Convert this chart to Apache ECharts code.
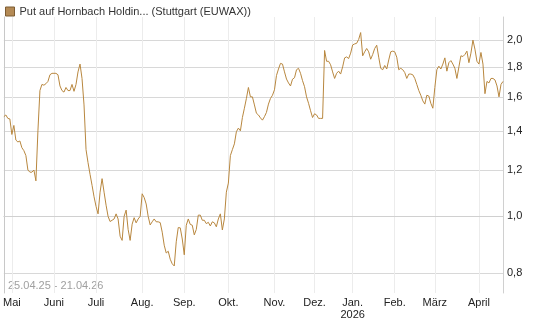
<!DOCTYPE html>
<html>
<head>
<meta charset="utf-8">
<script src="https://cdn.jsdelivr.net/npm/echarts@6/dist/echarts.min.js"></script>
<style>
  html, body { margin: 0; padding: 0; background: #fff; }
  #chart { width: 545px; height: 327px; }
</style>
</head>
<body>
<div id="chart"></div>
<script>
// trading days, Stuttgart closed on these dates
const firstDay = '2025-04-25'
const lastDay = '2026-04-21'
const holidays = ['2025-05-01', '2025-12-24', '2025-12-25', '2025-12-26', '2025-12-31', '2026-01-01', '2026-04-03', '2026-04-06']

const monthLabels = ['Jan.', 'Feb.', 'März', 'April', 'Mai', 'Juni', 'Juli', 'Aug.', 'Sep.', 'Okt.', 'Nov.', 'Dez.']
const yTicks = [0.8, 1.0, 1.2, 1.4, 1.6, 1.8, 2.0]
const yMin = 0.74
const yMax = 2.19

// closing prices, one per trading day
const prices = [
  1.48, 1.49, 1.47, 1.467, 1.38, 1.43, 1.35, 1.34, 1.345, 1.31,
  1.295, 1.27, 1.20, 1.19, 1.19, 1.20, 1.15, 1.40, 1.64, 1.68,
  1.675, 1.685, 1.70, 1.745, 1.755, 1.755, 1.755, 1.745, 1.67, 1.64,
  1.63, 1.66, 1.64, 1.64, 1.68, 1.635, 1.68, 1.765, 1.82, 1.72,
  1.55, 1.30, 1.235, 1.18, 1.13, 1.08, 1.04, 1.01, 1.10, 1.16,
  1.10, 1.045, 1.00, 0.98, 0.985, 0.99, 1.01, 0.99, 0.925, 0.91,
  1.00, 1.025, 0.95, 0.91, 0.97, 0.995, 0.975, 0.99, 1.00, 1.093,
  1.077, 1.05, 1.00, 0.967, 0.979, 0.99, 0.979, 0.979, 0.976, 0.94,
  0.893, 0.866, 0.872, 0.845, 0.83, 0.823, 0.905, 0.957, 0.956, 0.915,
  0.86, 0.966, 0.99, 0.969, 0.966, 0.93, 0.95, 1.005, 1.005, 0.985,
  0.985, 0.972, 0.977, 0.963, 0.979, 0.975, 0.96, 0.99, 1.01, 0.948,
  0.99, 1.10, 1.14, 1.27, 1.30, 1.33, 1.395, 1.415, 1.40, 1.475,
  1.53, 1.59, 1.66, 1.60, 1.60, 1.55, 1.50, 1.49, 1.473, 1.46,
  1.48, 1.505, 1.555, 1.59, 1.61, 1.645, 1.74, 1.785, 1.825, 1.82,
  1.765, 1.716, 1.69, 1.67, 1.715, 1.725, 1.78, 1.79, 1.755, 1.705,
  1.665, 1.60, 1.56, 1.515, 1.475, 1.497, 1.49, 1.47, 1.47, 1.47,
  1.92, 1.84, 1.84, 1.815, 1.765, 1.72, 1.755, 1.77, 1.75, 1.80,
  1.865, 1.872, 1.86, 1.90, 1.962, 1.97, 1.975, 2.005, 2.06, 1.88,
  1.91, 1.935, 1.91, 1.855, 1.89, 1.935, 1.96, 1.87, 1.79, 1.78,
  1.81, 1.785, 1.85, 1.91, 1.915, 1.91, 1.87, 1.78, 1.79, 1.78,
  1.76, 1.72, 1.75, 1.75, 1.745, 1.72, 1.68, 1.64, 1.61, 1.575,
  1.555, 1.61, 1.605, 1.56, 1.53, 1.66, 1.78, 1.805, 1.785, 1.82,
  1.865, 1.77, 1.83, 1.845, 1.82, 1.79, 1.72, 1.80, 1.88, 1.875,
  1.89, 1.915, 1.83, 1.90, 2.00, 1.93, 1.84, 1.82, 1.905, 1.82,
  1.62, 1.70, 1.69, 1.72, 1.72, 1.71, 1.67, 1.60, 1.68, 1.70
]

function tradingDays(from, to) {
  const out = []
  const d = new Date(from + 'T12:00:00Z')
  const end = new Date(to + 'T12:00:00Z')
  while (d <= end) {
    const s = d.toISOString().slice(0, 10)
    const wd = d.getUTCDay()
    if (wd !== 0 && wd !== 6 && holidays.indexOf(s) < 0) out.push(s)
    d.setUTCDate(d.getUTCDate() + 1)
  }
  return out
}

const dates = tradingDays(firstDay, lastDay)

// first trading day of a new month
function isMonthStart(index) {
  if (index === 0) return false
  return dates[index].slice(5, 7) !== dates[index - 1].slice(5, 7)
}

const chart = echarts.init(document.getElementById('chart'))

const lineColor = '#b8873f'
const font = 'Liberation Sans, Arial, sans-serif'

chart.setOption({
  animation: false,
  textStyle: { fontFamily: font },
  legend: {
    left: 0,
    top: 1,
    icon: 'rect',
    itemWidth: 9,
    itemHeight: 9,
    itemGap: 4,
    textStyle: { fontSize: 11, color: '#333', fontFamily: font },
    data: [{
      name: 'Put auf Hornbach Holdin... (Stuttgart (EUWAX))',
      itemStyle: { color: '#b48a55', borderColor: '#7d5c33', borderWidth: 1 }
    }]
  },
  grid: { left: 3, right: 42, top: 17, bottom: 34 },
  graphic: [{
    type: 'text',
    left: 8,
    top: 280,
    style: { text: firstDay.slice(8, 10) + '.' + firstDay.slice(5, 7) + '.' + firstDay.slice(2, 4) + ' - ' +
      lastDay.slice(8, 10) + '.' + lastDay.slice(5, 7) + '.' + lastDay.slice(2, 4),
      fill: '#a0a0a0', font: '11px ' + font }
  }],
  xAxis: {
    type: 'category',
    boundaryGap: false,
    data: dates,
    axisLine: { lineStyle: { color: '#d0d0d0' } },
    axisTick: { show: false },
    axisLabel: {
      interval: isMonthStart,
      color: '#222',
      fontSize: 11,
      margin: 4,
      lineHeight: 12,
      formatter: (v) => {
        const m = parseInt(v.slice(5, 7), 10) - 1
        return m === 0 ? monthLabels[m] + '\n' + v.slice(0, 4) : monthLabels[m]
      }
    },
    splitLine: { show: true, interval: isMonthStart, lineStyle: { color: '#ececec' } }
  },
  yAxis: [{
    type: 'value',
    position: 'right',
    min: Math.log(yMin),
    max: Math.log(yMax),
    axisLine: { show: true, lineStyle: { color: '#d0d0d0' } },
    axisTick: { show: false, customValues: yTicks.map(Math.log) },
    axisLabel: {
      customValues: yTicks.map(Math.log),
      color: '#222',
      fontSize: 11,
      margin: 4,
      formatter: (v) => Math.exp(v).toFixed(1).replace('.', ',')
    },
    splitLine: { show: true, lineStyle: { color: '#d8d8d8' } }
  }, {
    type: 'value',
    position: 'left',
    min: Math.log(yMin),
    max: Math.log(yMax),
    axisLine: { show: true, lineStyle: { color: '#c8c8c8' } },
    axisTick: { show: false },
    axisLabel: { show: false },
    splitLine: { show: false }
  }],
  series: [{
    name: 'Put auf Hornbach Holdin... (Stuttgart (EUWAX))',
    type: 'line',
    showSymbol: false,
    symbol: 'none',
    data: prices.map(Math.log),
    lineStyle: { color: lineColor, width: 1 },
    itemStyle: { color: lineColor }
  }]
})
</script>
</body>
</html>
